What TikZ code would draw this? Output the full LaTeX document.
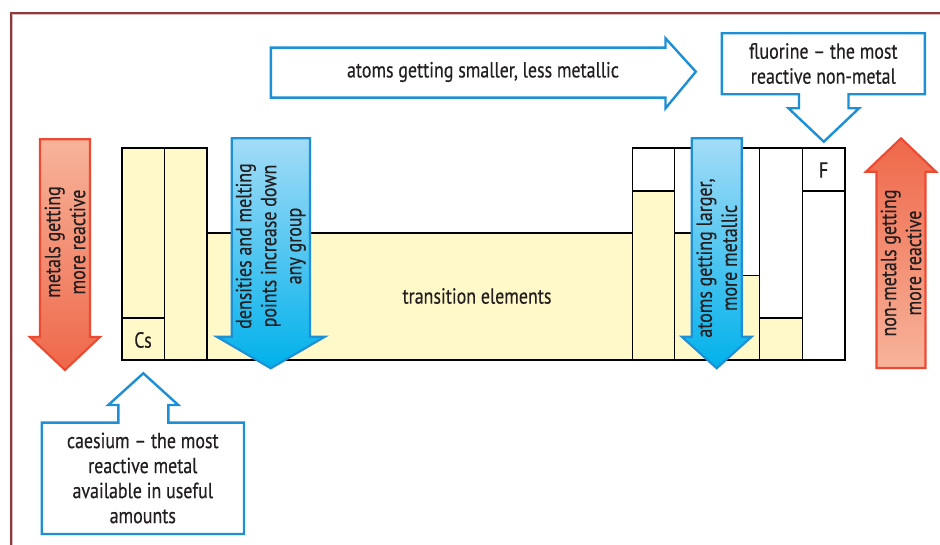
\documentclass[tikz,border=0pt]{standalone}
\usepackage{fontspec}
\setmainfont{PT Sans}[FakeStretch=0.82, FakeBold=0.4]
\usepackage{xcolor}
\definecolor{cellyellow}{HTML}{FFF9C9}
\definecolor{calloutblue}{HTML}{1D8FD5}
\definecolor{arrowred}{HTML}{EB4A33}
\definecolor{redlight}{HTML}{F7B49B}
\definecolor{reddark}{HTML}{EF6749}
\definecolor{bluelight}{HTML}{A3DCF7}
\definecolor{bluedark}{HTML}{00B1EB}
\definecolor{framered}{HTML}{8E3A3D}
\definecolor{inktext}{HTML}{231F20}

\tikzset{
  cell/.style={draw=black, line width=1.2pt},
  yellowcell/.style={cell, fill=cellyellow},
  callout/.style={draw=calloutblue, line width=1.8pt, fill=white, line join=miter},
  redarrow/.style={draw=arrowred, line width=1.6pt, line join=miter},
  bluearrow/.style={draw=calloutblue, line width=1.6pt, line join=miter, top color=bluelight, bottom color=bluedark},
  txt/.style={text=inktext, align=center, inner sep=0pt, font=\fontsize{16.4}{18.75}\selectfont}
}

\begin{document}
\begin{tikzpicture}[x=0.75pt, y=-0.75pt]
\useasboundingbox (0,0) rectangle (940,545);
% frame
\draw[framered!35, line width=0.8pt] (12.6,545) -- (12.6,14.6) -- (940,14.6);
\draw[framered, line width=1.1pt] (11,545) -- (11,13) -- (940,13);

% s-block and transition block
\filldraw[yellowcell] (121.7,148.3) rectangle (164.3,360);
\draw[cell] (121.7,318.3) -- (164.3,318.3);
\filldraw[yellowcell] (164.3,148.3) rectangle (206.7,360);
\filldraw[yellowcell] (206.7,233.3) rectangle (632.3,360);
% p-block
\filldraw[yellowcell] (632.3,191) rectangle (674.3,360);
\filldraw[yellowcell] (674.3,233.3) rectangle (716.7,360);
\filldraw[yellowcell] (716.7,275.7) rectangle (759.5,360);
\filldraw[yellowcell] (759.5,318.3) rectangle (802.3,360);
\draw[cell] (632.3,148.3) rectangle (674.3,360);
\draw[cell] (674.3,148.3) rectangle (716.7,360);
\draw[cell] (716.7,148.3) rectangle (759.5,360);
\draw[cell] (759.5,148.3) rectangle (802.3,360);
\draw[cell] (802.3,148.3) rectangle (845,360);
\draw[cell] (802.3,191) -- (845,191);

\node[txt] (cs) at (143,340) {Cs};
\node[txt] (fl) at (823.6,170) {F};
\node[txt] (trans) at (477,296) {transition elements};

% red arrows
\filldraw[redarrow, top color=redlight, bottom color=reddark]
  (40,139.3) -- (90,139.3) -- (90,337) -- (100,337) -- (65,370) -- (30,337) -- (40,337) -- cycle;
\node[txt, rotate=90] (metals) at (65,242) {metals getting\\more reactive};
\filldraw[redarrow, top color=reddark, bottom color=redlight]
  (876.5,368) -- (925.5,368) -- (925.5,171.7) -- (936,171.7) -- (901,138.3) -- (866,171.7) -- (876.5,171.7) -- cycle;
\node[txt, rotate=90] (nonmetals) at (901,263) {non-metals getting\\more reactive};

% blue arrows
\filldraw[bluearrow]
  (231.7,138.3) -- (310,138.3) -- (310,336.7) -- (325,336.7) -- (270.8,368.3) -- (216.7,336.7) -- (231.7,336.7) -- cycle;
\node[txt, rotate=90] (density) at (270.8,246) {densities and melting\\points increase down\\any group};
\filldraw[bluearrow]
  (691.7,138.3) -- (741.7,138.3) -- (741.7,336.7) -- (751.7,336.7) -- (716.7,368.3) -- (681.7,336.7) -- (691.7,336.7) -- cycle;
\node[txt, rotate=90] (larger) at (716.7,258) {atoms getting larger,\\more metallic};

% callouts
\filldraw[callout]
  (270.8,47.7) -- (665.5,47.7) -- (665.5,38.3) -- (695.8,71.7) -- (665.5,108.3) -- (665.5,97.7) -- (270.8,97.7) -- cycle;
\node[txt] (smaller) at (483,72) {atoms getting smaller, less metallic};
\filldraw[callout]
  (721.8,33.3) -- (924.8,33.3) -- (924.8,94.3) -- (848.5,94.3) -- (848.5,108.3) -- (859,108.3)
  -- (823.8,141.7) -- (788.5,108.3) -- (799,108.3) -- (799,94.3) -- (721.8,94.3) -- cycle;
\node[txt] (fluorine) at (823.3,63.5) {fluorine – the most\\reactive non-metal};
\filldraw[callout]
  (41.7,422.7) -- (118.3,422.7) -- (118.3,405) -- (108.3,405) -- (143.3,373.3) -- (178.3,405)
  -- (168.3,405) -- (168.3,422.7) -- (244,422.7) -- (244,534) -- (41.7,534) -- cycle;
\node[txt] (caesium) at (142.8,478) {caesium – the most\\reactive metal\\available in useful\\amounts};
\end{tikzpicture}
\end{document}
